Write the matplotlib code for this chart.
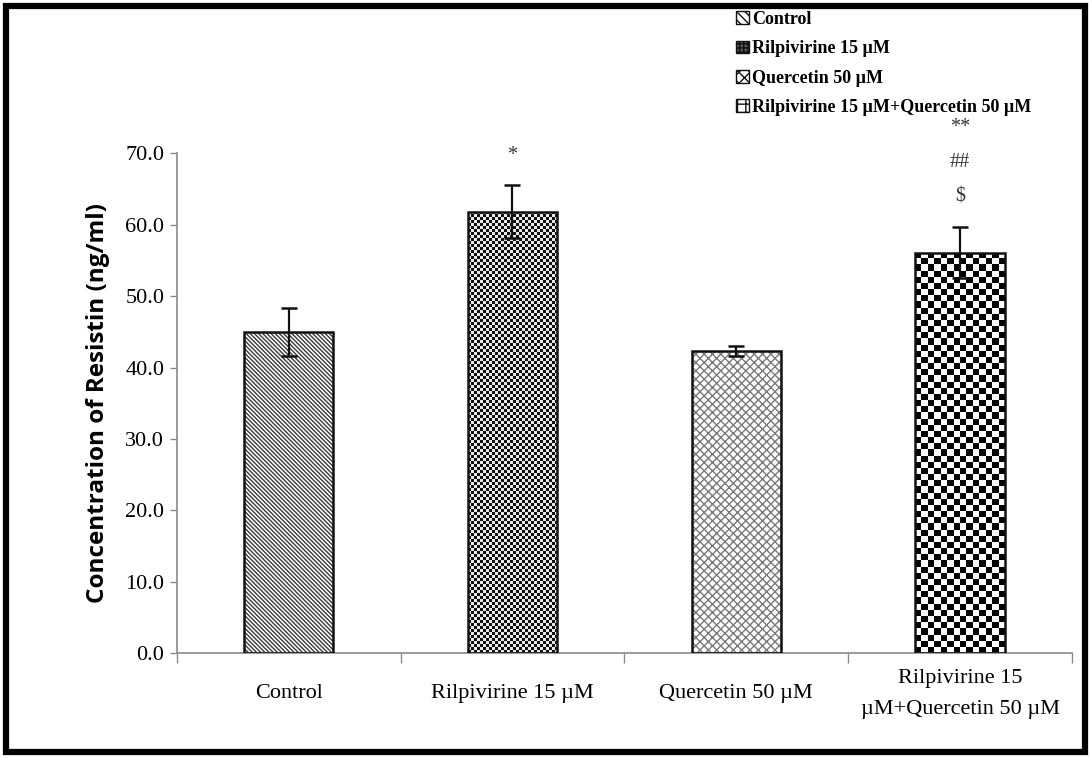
import numpy as np
import matplotlib
matplotlib.use("Agg")
import matplotlib.pyplot as plt
from matplotlib.patches import Rectangle, Patch

# ---------------- data ----------------
categories = ["Control", "Rilpivirine 15 \u00b5M", "Quercetin 50 \u00b5M",
              "Rilpivirine 15\n\u00b5M+Quercetin 50 \u00b5M"]
legend_labels = ["Control", "Rilpivirine 15 \u00b5M", "Quercetin 50 \u00b5M",
                 "Rilpivirine 15 \u00b5M+Quercetin 50 \u00b5M"]
means = [45.0, 61.8, 42.3, 56.1]
errors = [3.4, 3.7, 0.7, 3.6]
annotations = ["", "*", "", "**\n##\n$"]
y_ticks = [0, 10, 20, 30, 40, 50, 60, 70]

SERIF = ["Liberation Serif", "DejaVu Serif"]

fig = plt.figure(figsize=(10.91, 7.58), dpi=100)
ax = fig.add_axes([0.162, 0.1381, 0.8206, 0.6597])

x = np.arange(len(categories))
width = 0.4

hatches = ["\\" * 8, None, "xxxx", None]
hatch_cols = ["#3a3a3a", "#000000", "#7a7a7a", "#000000"]

for i in range(len(categories)):
    if hatches[i] is not None:
        ax.bar(x[i], means[i], width, color="white", hatch=hatches[i],
               edgecolor=hatch_cols[i], linewidth=0, zorder=2)

# checker textures for bars 2 and 4 (clipped to the bar shapes)
def checker(ax, xi, h, sq_px, c1, c2):
    bars = ax.bar(xi, h, width, color="white", linewidth=0, zorder=2)
    patch = bars[0]
    px_per_x = 0.8206 * 1091 / 4.0
    px_per_y = 0.6597 * 758 / 70.0
    nx = max(1, int(round(width * px_per_x / sq_px)))
    ny = max(1, int(round(h * px_per_y / sq_px)))
    arr = (np.add.outer(np.arange(ny), np.arange(nx)) % 2).astype(float)
    im = ax.imshow(arr, cmap=matplotlib.colors.ListedColormap([c1, c2]),
                   extent=(xi - width / 2, xi + width / 2, 0, h),
                   origin="lower", interpolation="nearest", aspect="auto",
                   zorder=2.5)
    im.set_clip_path(patch)

checker(ax, x[1], means[1], 3.0, "#111111", "#e8e8e8")
checker(ax, x[3], means[3], 6.2, "#000000", "#ffffff")

# outlines
ax.bar(x, means, width, facecolor="none", edgecolor="#111111", linewidth=1.8,
       zorder=3)

ax.errorbar(x, means, yerr=errors, fmt="none", ecolor="#111111",
            elinewidth=1.6, capsize=6, capthick=1.8, zorder=4)

for i, txt in enumerate(annotations):
    if txt:
        ax.text(x[i], means[i] + errors[i] + 2.8, txt, ha="center", va="bottom",
                fontsize=14.5, family=SERIF, color="#333333", linespacing=2.15,
                clip_on=False, zorder=5)

ax.set_xlim(-0.5, 3.5)
ax.set_ylim(0, 70)
ax.set_yticks(y_ticks)
ax.set_yticklabels([f"{v:.1f}" for v in y_ticks], family=SERIF, fontsize=16)
ax.set_xticks(x)
ax.set_xticklabels(categories, family=SERIF, fontsize=16, va="center",
                   linespacing=1.85)
ax.set_xticks(np.arange(-0.5, 4.0, 1.0), minor=True)
ax.tick_params(axis="x", which="major", length=0, pad=29)
ax.tick_params(axis="x", which="minor", length=7, direction="out",
               color="#8a8a8a", width=1)
ax.tick_params(axis="y", length=5, direction="out", color="#8a8a8a",
               width=1, pad=4)

for s in ["top", "right"]:
    ax.spines[s].set_visible(False)
for s in ["left", "bottom"]:
    ax.spines[s].set_color("#8a8a8a")
    ax.spines[s].set_linewidth(1.2)

ax.set_ylabel("Concentration of Resistin (ng/ml)", fontsize=17.5,
              fontweight="bold", family=["Open Sans", "DejaVu Sans"],
              labelpad=11)

# legend
handles = [
    Patch(facecolor="white", edgecolor="#111111", hatch="\\\\\\\\"),
    Patch(facecolor="#555555", edgecolor="#111111", hatch="++++"),
    Patch(facecolor="white", edgecolor="#111111", hatch="xxx"),
    Patch(facecolor="white", edgecolor="#111111", hatch="++"),
]
leg = fig.legend(handles, legend_labels, loc="upper left",
                 bbox_to_anchor=(0.663, 1.0 + 0.002), frameon=False,
                 prop={"family": SERIF, "weight": "bold", "size": 13},
                 handlelength=0.7, handleheight=0.7, handletextpad=0.2,
                 labelspacing=0.68, borderaxespad=0.3)

# figure frame
fig.patches.append(Rectangle((0.0055, 0.0083), 0.989, 0.9834,
                             transform=fig.transFigure, fill=False,
                             edgecolor="black", linewidth=4.5, zorder=10))

fig.savefig("out.png", dpi=100)
